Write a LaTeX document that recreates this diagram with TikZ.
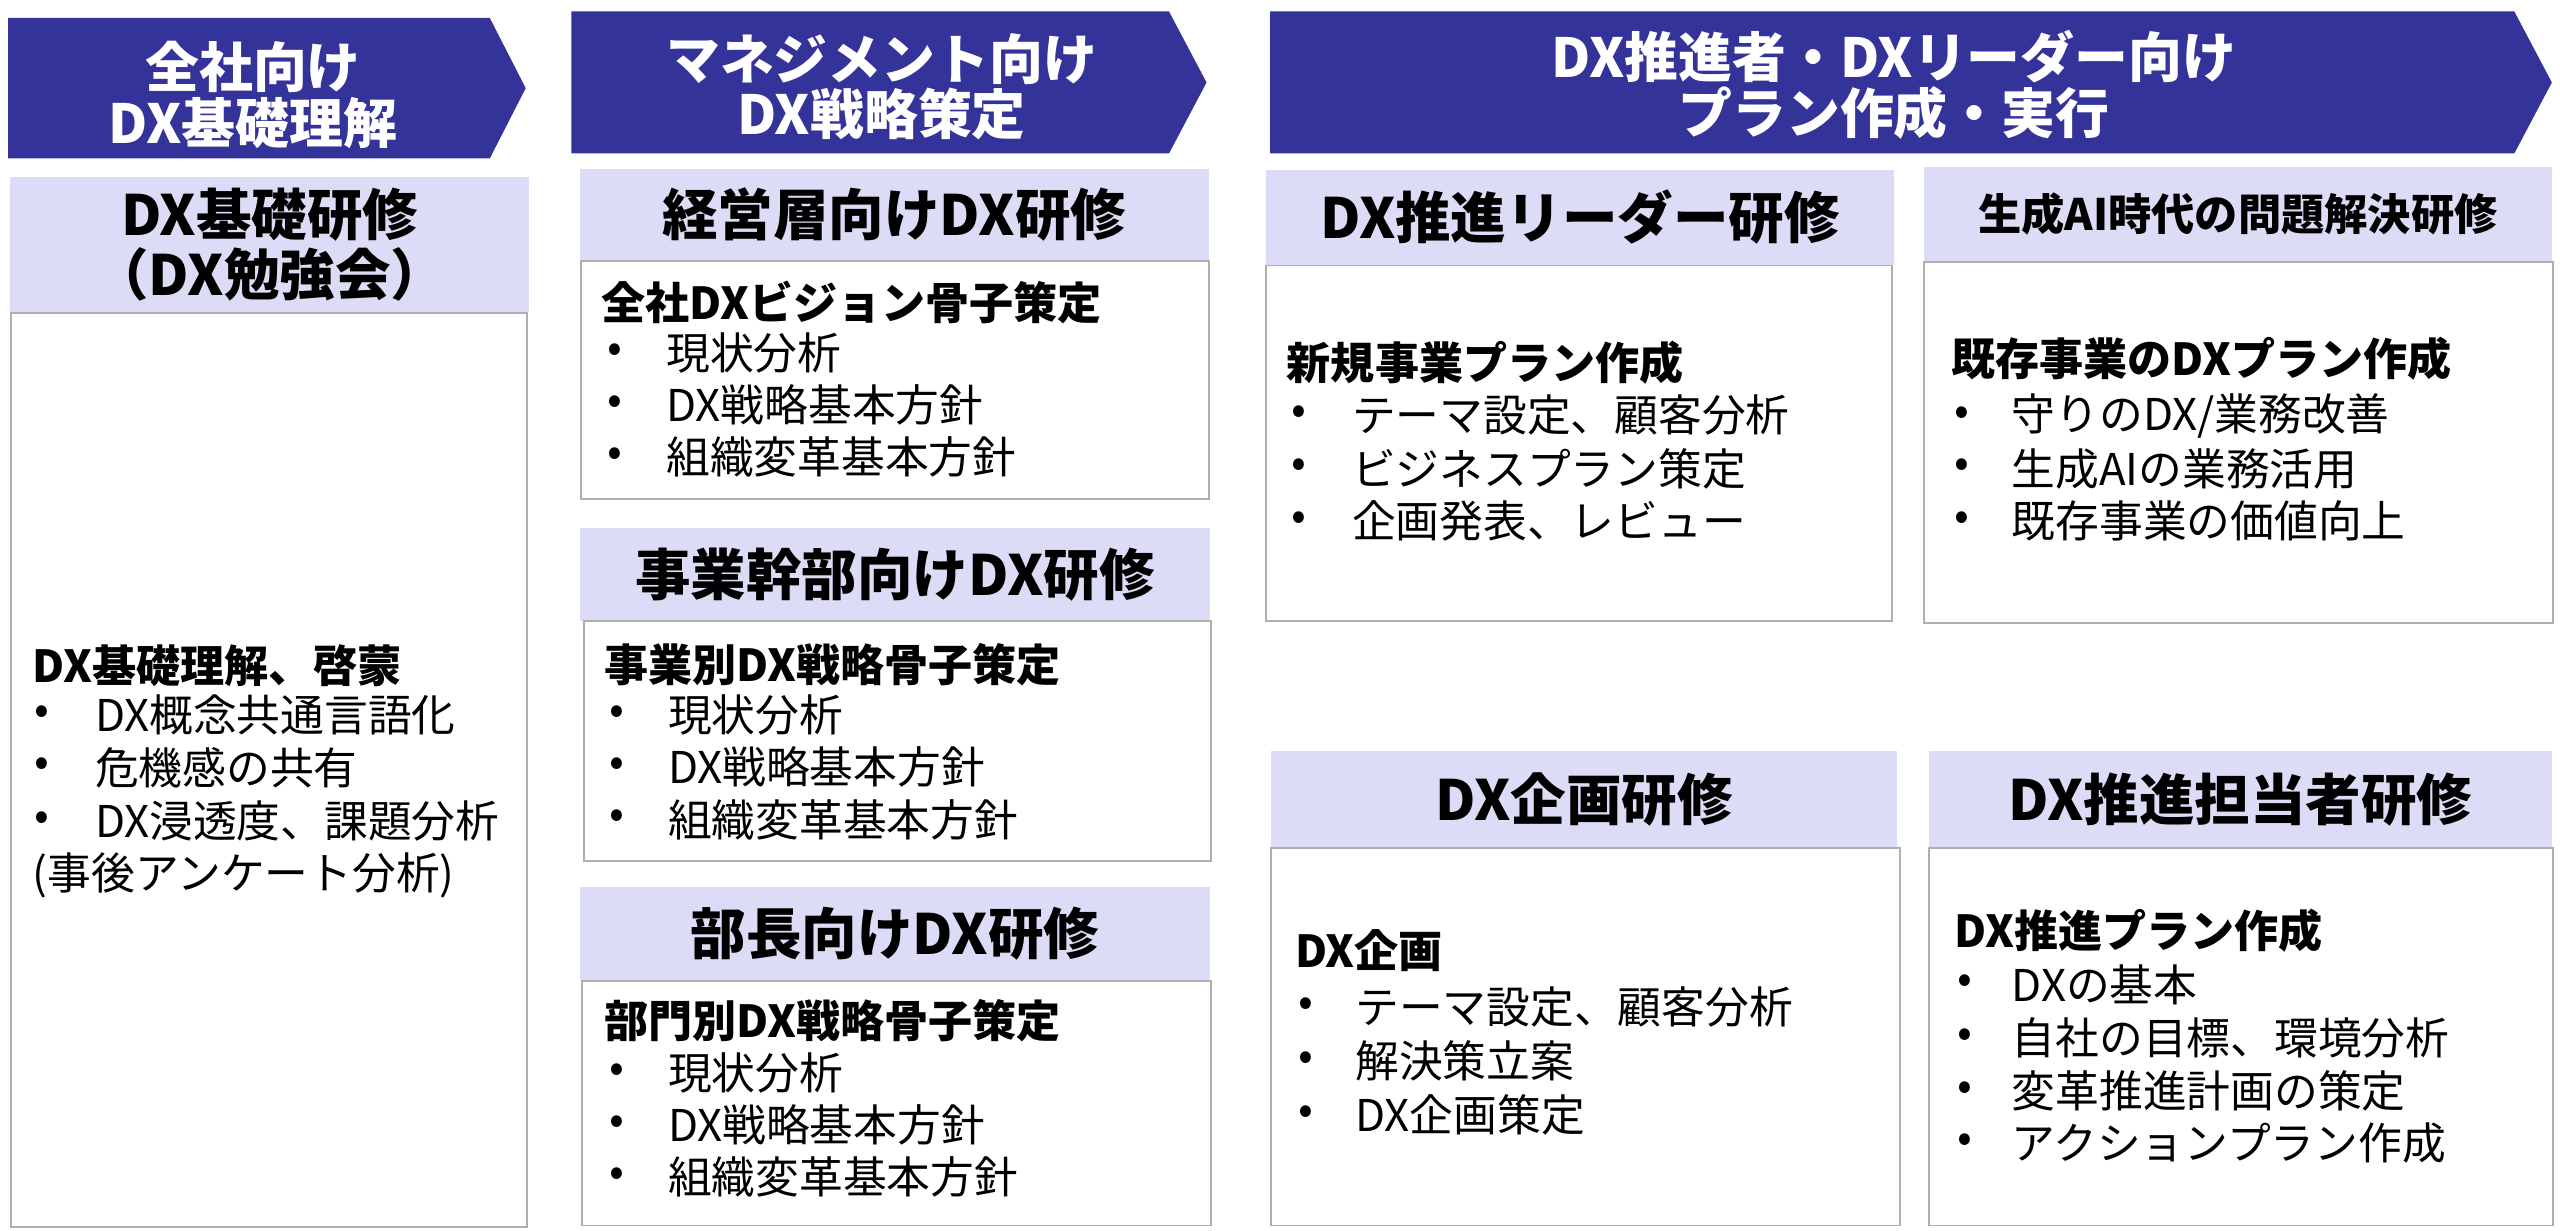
\documentclass[tikz,border=0pt]{standalone}
\usepackage{fontspec}
\setmainfont{Noto Sans CJK JP}
\definecolor{dxnavy}{RGB}{51,51,153}
\definecolor{dxlav}{RGB}{220,220,246}
\definecolor{dxgray}{RGB}{175,175,175}
\begin{document}
\begin{tikzpicture}[x=1pt,y=-1pt,
  every node/.style={inner sep=0pt},
  banner/.style={fill=dxnavy},
  bannertext/.style={text=white,align=center,font=\fontsize{33}{34}\selectfont\bfseries},
  headbox/.style={fill=dxlav,anchor=north west,align=center,font=\fontsize{34}{37}\selectfont\bfseries},
  bodybox/.style={draw=dxgray,line width=1.2pt,fill=white,anchor=north west},
  lead/.style={anchor=west,font=\fontsize{27}{32}\selectfont\bfseries},
  item/.style={anchor=west,font=\fontsize{26.8}{32}\selectfont}]
  \useasboundingbox (0,0) rectangle (1568,753.4);
  % banners
  \fill[banner] (5,11) -- (300,11) -- (322,54) -- (300,97) -- (5,97) -- cycle;
  \node[bannertext] (ban1) at (155,58) {全社向け\\DX基礎理解};
  \fill[banner] (350,7) -- (716,7) -- (739,50.5) -- (716,94) -- (350,94) -- cycle;
  \node[bannertext] (ban2) at (540,53) {マネジメント向け\\DX戦略策定};
  \fill[banner] (778,7) -- (1540,7) -- (1563,50.5) -- (1540,94) -- (778,94) -- cycle;
  \node[bannertext] (ban3) at (1160,52) {DX推進者・DXリーダー向け\\プラン作成・実行};
  % column 1
  \node[headbox,minimum width=318,minimum height=83] (h1) at (6,108) {DX基礎研修\\（DX勉強会）};
  \node[bodybox,minimum width=316,minimum height=560] (b1) at (6,191) {};
  \node[lead] (l1) at (20,408) {DX基礎理解、啓蒙};
  \node[item] (d1a) at (21,438) {•};
  \node[item] (i1a) at (58,438) {DX概念共通言語化};
  \node[item] (d1b) at (21,470) {•};
  \node[item] (i1b) at (58,470) {危機感の共有};
  \node[item] (d1c) at (21,503) {•};
  \node[item] (i1c) at (58,503) {DX浸透度、課題分析};
  \node[item] (i1d) at (20,536) {(事後アンケート分析)};
  % column 2
  \node[headbox,minimum width=385,minimum height=56] (h2a) at (355,103) {経営層向けDX研修};
  \node[bodybox,minimum width=385,minimum height=146] (b2a) at (355,159) {};
  \node[lead] (l2a) at (368,185) {全社DXビジョン骨子策定};
  \node[item] (d2a1) at (372,216) {•};
  \node[item] (i2a1) at (408,216) {現状分析};
  \node[item] (d2a2) at (372,248) {•};
  \node[item] (i2a2) at (408,248) {DX戦略基本方針};
  \node[item] (d2a3) at (372,280) {•};
  \node[item] (i2a3) at (408,280) {組織変革基本方針};
  \node[headbox,minimum width=386,minimum height=57] (h2b) at (355,323) {事業幹部向けDX研修};
  \node[bodybox,minimum width=384,minimum height=147] (b2b) at (357,380) {};
  \node[lead] (l2b) at (370,407) {事業別DX戦略骨子策定};
  \node[item] (d2b1) at (373,438) {•};
  \node[item] (i2b1) at (409,438) {現状分析};
  \node[item] (d2b2) at (373,470) {•};
  \node[item] (i2b2) at (409,470) {DX戦略基本方針};
  \node[item] (d2b3) at (373,502) {•};
  \node[item] (i2b3) at (409,502) {組織変革基本方針};
  \node[headbox,minimum width=386,minimum height=57] (h2c) at (355,543) {部長向けDX研修};
  \node[bodybox,minimum width=385,minimum height=150] (b2c) at (356,600) {};
  \node[lead] (l2c) at (370,625) {部門別DX戦略骨子策定};
  \node[item] (d2c1) at (373,657) {•};
  \node[item] (i2c1) at (409,657) {現状分析};
  \node[item] (d2c2) at (373,689) {•};
  \node[item] (i2c2) at (409,689) {DX戦略基本方針};
  \node[item] (d2c3) at (373,721) {•};
  \node[item] (i2c3) at (409,721) {組織変革基本方針};
  % column 3, top
  \node[headbox,minimum width=385,minimum height=58] (h3a) at (775,104) {DX推進リーダー研修};
  \node[bodybox,minimum width=383,minimum height=218] (b3a) at (775,162) {};
  \node[lead] (l3a) at (788,222) {新規事業プラン作成};
  \node[item] (d3a1) at (791,254) {•};
  \node[item] (i3a1) at (828,254) {テーマ設定、顧客分析};
  \node[item] (d3a2) at (791,287) {•};
  \node[item] (i3a2) at (828,287) {ビジネスプラン策定};
  \node[item] (d3a3) at (791,319) {•};
  \node[item] (i3a3) at (828,319) {企画発表、レビュー};
  \node[headbox,minimum width=385,minimum height=58,font=\fontsize{26.5}{30}\selectfont\bfseries] (h3b) at (1178,102) {生成AI時代の問題解決研修};
  \node[bodybox,minimum width=385,minimum height=221] (b3b) at (1178,160) {};
  \node[lead] (l3b) at (1195,220) {既存事業のDXプラン作成};
  \node[item] (d3b1) at (1197,255) {•};
  \node[item] (i3b1) at (1232,255) {守りのDX/業務改善};
  \node[item] (d3b2) at (1197,287) {•};
  \node[item] (i3b2) at (1232,287) {生成AIの業務活用};
  \node[item] (d3b3) at (1197,319) {•};
  \node[item] (i3b3) at (1232,319) {既存事業の価値向上};
  % column 3, bottom
  \node[headbox,minimum width=384,minimum height=59] (h4a) at (778,460) {DX企画研修};
  \node[bodybox,minimum width=385,minimum height=231] (b4a) at (778,519) {};
  \node[lead] (l4a) at (793,582) {DX企画};
  \node[item] (d4a1) at (795,617) {•};
  \node[item] (i4a1) at (830,617) {テーマ設定、顧客分析};
  \node[item] (d4a2) at (795,650) {•};
  \node[item] (i4a2) at (830,650) {解決策立案};
  \node[item] (d4a3) at (795,683) {•};
  \node[item] (i4a3) at (830,683) {DX企画策定};
  \node[headbox,minimum width=382,minimum height=59] (h4b) at (1181,460) {DX推進担当者研修};
  \node[bodybox,minimum width=382,minimum height=231] (b4b) at (1181,519) {};
  \node[lead] (l4b) at (1197,570) {DX推進プラン作成};
  \node[item] (d4b1) at (1199,603) {•};
  \node[item] (i4b1) at (1232,603) {DXの基本};
  \node[item] (d4b2) at (1199,636) {•};
  \node[item] (i4b2) at (1232,636) {自社の目標、環境分析};
  \node[item] (d4b3) at (1199,668) {•};
  \node[item] (i4b3) at (1232,668) {変革推進計画の策定};
  \node[item] (d4b4) at (1199,700) {•};
  \node[item] (i4b4) at (1232,700) {アクションプラン作成};
\end{tikzpicture}
\end{document}
